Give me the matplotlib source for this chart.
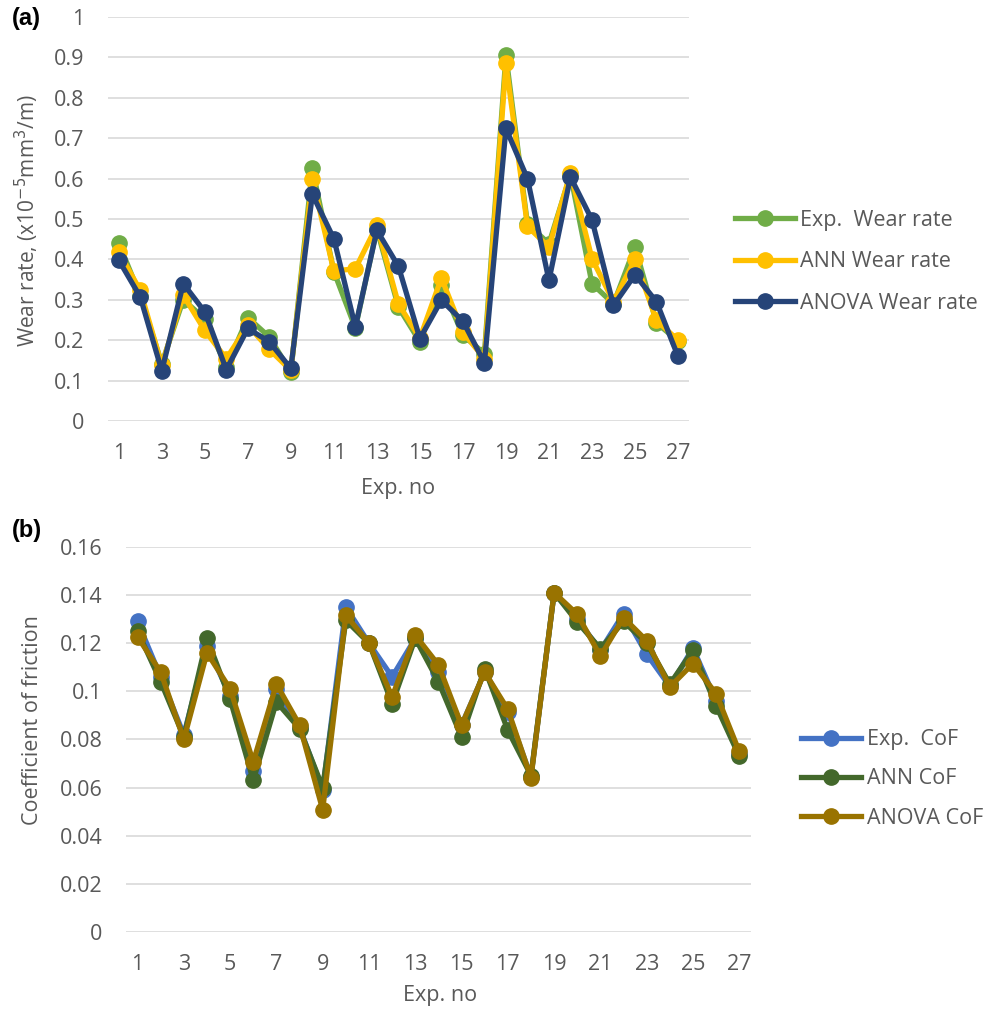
# wear rate and CoF comparison plots

import matplotlib.pyplot as plt

plt.rcParams['font.family'] = ['Open Sans', 'DejaVu Sans']

exp_no = list(range(1, 28))

# (a) wear rate values, x10^-5 mm3/m
exp_wear = [0.44, 0.31, 0.142, 0.30, 0.253, 0.134, 0.256, 0.208, 0.121, 0.625,
            0.37, 0.23, 0.475, 0.282, 0.196, 0.336, 0.212, 0.167, 0.905, 0.488,
            0.439, 0.61, 0.34, 0.29, 0.431, 0.243, 0.198]
ann_wear = [0.418, 0.323, 0.138, 0.311, 0.224, 0.154, 0.237, 0.177, 0.125, 0.60,
            0.371, 0.377, 0.484, 0.29, 0.205, 0.354, 0.22, 0.154, 0.885, 0.482,
            0.43, 0.614, 0.402, 0.295, 0.40, 0.249, 0.20]
anova_wear = [0.398, 0.307, 0.124, 0.34, 0.27, 0.127, 0.229, 0.196, 0.13, 0.561,
              0.451, 0.233, 0.472, 0.383, 0.204, 0.299, 0.247, 0.144, 0.724, 0.60,
              0.348, 0.604, 0.498, 0.286, 0.362, 0.295, 0.16]

# (b) coefficient of friction values
exp_cof = [0.129, 0.106, 0.082, 0.119, 0.098, 0.067, 0.101, 0.085, 0.059, 0.135,
           0.120, 0.106, 0.122, 0.108, 0.086, 0.108, 0.0914, 0.0645, 0.141, 0.130,
           0.117, 0.1323, 0.1154, 0.102, 0.118, 0.096, 0.074]
ann_cof = [0.125, 0.104, 0.081, 0.122, 0.0967, 0.063, 0.0956, 0.0845, 0.060, 0.1295,
           0.120, 0.0949, 0.122, 0.104, 0.081, 0.1094, 0.0838, 0.065, 0.141, 0.1288,
           0.1177, 0.129, 0.120, 0.103, 0.117, 0.094, 0.073]
anova_cof = [0.1226, 0.108, 0.080, 0.116, 0.101, 0.0707, 0.103, 0.086, 0.0508, 0.1316,
             0.120, 0.0977, 0.1233, 0.111, 0.0859, 0.108, 0.0925, 0.0641, 0.141, 0.132,
             0.1146, 0.1306, 0.121, 0.1018, 0.1115, 0.099, 0.075]

grey = '#595959'
fs = 15.5
fig = plt.figure(figsize=(10.03, 10.11), dpi=100)


def style_axes(ax, ymax, ticks):
    ax.set_xlim(0.5, 27.5)
    ax.set_ylim(0, ymax)
    ax.set_yticks(ticks)
    ax.set_xticks(exp_no[::2])
    ax.grid(axis='y', color='#d9d9d9', linewidth=1.2)
    ax.set_axisbelow(True)
    for s in ax.spines.values():
        s.set_visible(False)
    ax.tick_params(length=0, labelsize=fs, labelcolor=grey)
    ax.tick_params(axis='x', pad=16)
    ax.tick_params(axis='y', pad=17)


# top chart
ax1 = fig.add_axes([0.1077, 0.5836, 0.579, 0.3996])
ax1.plot(exp_no, exp_wear, '-o', color='#70ad47', lw=3.8, ms=11, label='Exp.  Wear rate')
ax1.plot(exp_no, ann_wear, '-o', color='#ffc000', lw=3.8, ms=11, label='ANN Wear rate')
ax1.plot(exp_no, anova_wear, '-o', color='#264478', lw=3.8, ms=11, label='ANOVA Wear rate')
style_axes(ax1, 1, [0, 0.1, 0.2, 0.3, 0.4, 0.5, 0.6, 0.7, 0.8, 0.9, 1])
ax1.set_yticklabels(['0', '0.1', '0.2', '0.3', '0.4', '0.5', '0.6', '0.7', '0.8', '0.9', '1'])
ax1.legend(loc='center left', bbox_to_anchor=(0.724, 0.741), bbox_transform=fig.transFigure,
           frameon=False, fontsize=fs, labelcolor=grey, handlelength=2.8,
           handletextpad=0.25, labelspacing=0.95, borderaxespad=0)
fig.text(0.397, 1 - 489 / 1011, 'Exp. no', ha='center', va='center', fontsize=fs, color=grey)
fig.text(0.027, 1 - 220 / 1011, 'Wear rate, (x10$^{-5}$mm$^{3}$/m)', rotation=90,
         ha='center', va='center', fontsize=15, color=grey)
fig.text(0.012, 1 - 18 / 1011, '(a)', ha='left', va='center', fontsize=17,
         fontweight='bold', family='Liberation Sans')

# bottom chart
ax2 = fig.add_axes([0.1256, 0.0781, 0.623, 0.381])
ax2.plot(exp_no, exp_cof, '-o', color='#4472c4', lw=3.8, ms=11, label='Exp.  CoF')
ax2.plot(exp_no, ann_cof, '-o', color='#43682b', lw=3.8, ms=11, label='ANN CoF')
ax2.plot(exp_no, anova_cof, '-o', color='#997300', lw=3.8, ms=11, label='ANOVA CoF')
style_axes(ax2, 0.16, [0, 0.02, 0.04, 0.06, 0.08, 0.1, 0.12, 0.14, 0.16])
ax2.set_yticklabels(['0', '0.02', '0.04', '0.06', '0.08', '0.1', '0.12', '0.14', '0.16'])
ax2.legend(loc='center left', bbox_to_anchor=(0.79, 0.2295), bbox_transform=fig.transFigure,
           frameon=False, fontsize=fs, labelcolor=grey, handlelength=2.8,
           handletextpad=0.25, labelspacing=0.85, borderaxespad=0)
fig.text(0.439, 1 - 995 / 1011, 'Exp. no', ha='center', va='center', fontsize=fs, color=grey)
fig.text(0.032, 1 - 720 / 1011, 'Coefficient of friction', rotation=90,
         ha='center', va='center', fontsize=15.5, color=grey)
fig.text(0.012, 1 - 531 / 1011, '(b)', ha='left', va='center', fontsize=17,
         fontweight='bold', family='Liberation Sans')

plt.savefig('out.png', dpi=100)
